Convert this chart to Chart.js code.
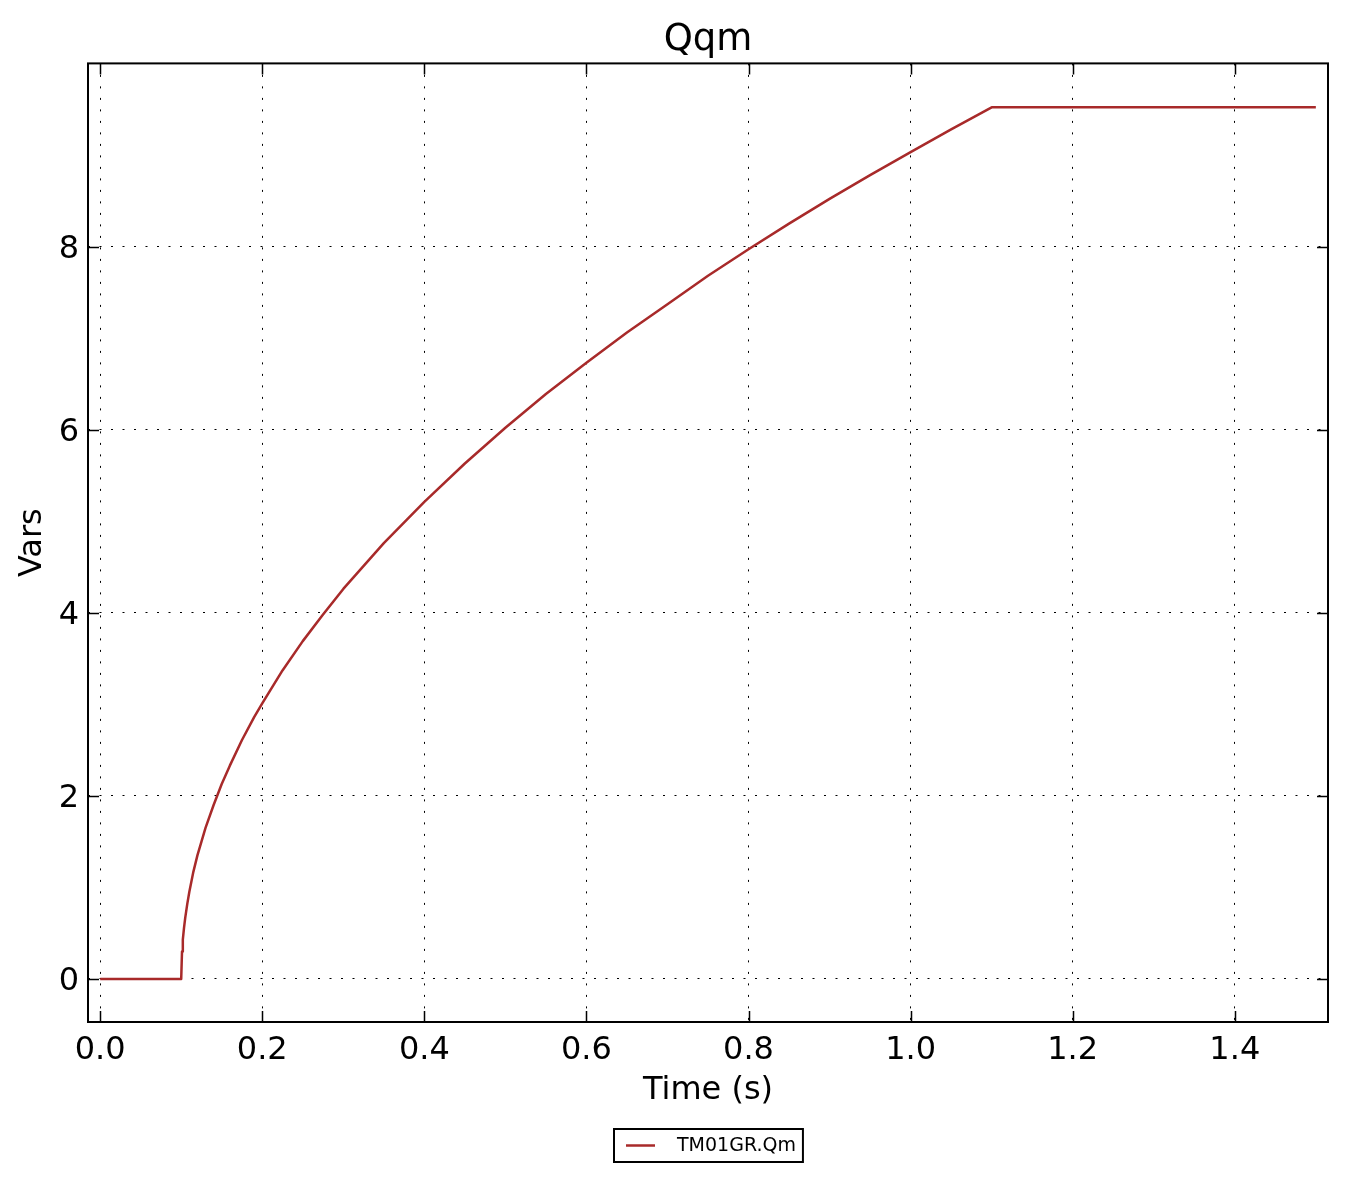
<!DOCTYPE html>
<html>
<head>
<meta charset="utf-8">
<title>Qqm</title>
<script src="https://cdn.jsdelivr.net/npm/chart.js@4.4.1/dist/chart.umd.min.js"></script>
<style>
  html, body { margin: 0; padding: 0; background: #fff; }
  #wrap { width: 1347px; height: 1182px; }
</style>
</head>
<body>
<div id="wrap"><canvas id="qqmChart"></canvas></div>
<script>
'use strict'

// values
const timeS = [0, 0.1, 0.101, 0.102, 0.1035, 0.105, 0.1075, 0.11, 0.115, 0.12, 0.125, 0.13, 0.14, 0.15, 0.16, 0.175, 0.19, 0.2, 0.225, 0.25, 0.275, 0.3, 0.35, 0.4, 0.45, 0.5, 0.55, 0.6, 0.65, 0.7, 0.75, 0.8, 0.85, 0.9, 0.95, 1.0, 1.05, 1.1, 1.5]
const qm = [0, 0, 0.3, 0.43, 0.56, 0.67, 0.82, 0.95, 1.17, 1.35, 1.5, 1.65, 1.9, 2.13, 2.33, 2.61, 2.86, 3.01, 3.37, 3.69, 3.98, 4.26, 4.76, 5.21, 5.63, 6.02, 6.39, 6.73, 7.06, 7.37, 7.68, 7.97, 8.25, 8.52, 8.78, 9.03, 9.28, 9.52, 9.52]
const xTicks = [0, 0.2, 0.4, 0.6, 0.8, 1.0, 1.2, 1.4]
const yTicks = [0, 2, 4, 6, 8]
const seriesName = 'TM01GR.Qm'

const FONT = 'DejaVu Sans'
const lineColor = '#a82a2a'

function tickFont(size) {
  return { family: FONT, size: size, weight: 'normal' }
}

// frame, inward ticks and the boxed legend under the axis title
const frameAndLegend = {
  id: 'frameAndLegend',
  afterLayout(chart) {
    // centre the title over the plot area, not the whole canvas
    if (chart.titleBlock) {
      chart.titleBlock.left = chart.chartArea.left
      chart.titleBlock.right = chart.chartArea.right
    }
  },
  afterDraw(chart) {
    const { ctx, chartArea } = chart
    const { left, right, top, bottom } = chartArea
    const xs = chart.scales.x
    const ys = chart.scales.y
    const tl = 11

    ctx.save()
    ctx.strokeStyle = '#000'
    ctx.lineWidth = 1.5
    ctx.beginPath()
    xTicks.forEach(v => {
      const px = Math.round(xs.getPixelForValue(v)) + 0.5
      ctx.moveTo(px, bottom); ctx.lineTo(px, bottom - tl)
      ctx.moveTo(px, top); ctx.lineTo(px, top + tl)
    })
    yTicks.forEach(v => {
      const py = Math.round(ys.getPixelForValue(v)) + 0.5
      ctx.moveTo(left, py); ctx.lineTo(left + tl, py)
      ctx.moveTo(right, py); ctx.lineTo(right - tl, py)
    })
    ctx.stroke()

    ctx.lineWidth = 2
    ctx.strokeRect(left, top, right - left, bottom - top)

    // legend
    ctx.font = '19px "' + FONT + '"'
    const textW = ctx.measureText(seriesName).width
    const boxW = 12 + 29 + 22 + textW + 7
    const boxH = 33
    const bx = Math.round((left + right) / 2 - boxW / 2)
    const by = Math.round(bottom + 107)
    ctx.fillStyle = '#fff'
    ctx.fillRect(bx, by, boxW, boxH)
    ctx.strokeRect(bx, by, boxW, boxH)
    const cy = by + boxH / 2
    ctx.strokeStyle = lineColor
    ctx.lineWidth = 2.5
    ctx.beginPath()
    ctx.moveTo(bx + 12, cy); ctx.lineTo(bx + 41, cy)
    ctx.stroke()
    ctx.fillStyle = '#000'
    ctx.textBaseline = 'middle'
    ctx.textAlign = 'left'
    ctx.fillText(seriesName, bx + 63, cy + 1)
    ctx.restore()
  }
}

const ctx = document.getElementById('qqmChart').getContext('2d')
const qqmChart = new Chart(ctx, {
  type: 'line',
  data: {
    datasets: [{
      label: seriesName,
      data: timeS.map((t, i) => ({ x: t, y: qm[i] })),
      borderColor: lineColor,
      backgroundColor: lineColor,
      borderWidth: 2.5,
      borderJoinStyle: 'round',
      pointRadius: 0,
      tension: 0,
      fill: false
    }]
  },
  options: {
    responsive: true,
    maintainAspectRatio: false,
    animation: false,
    layout: { padding: { left: 0, right: 19, top: 0, bottom: 55 } },
    plugins: {
      legend: { display: false },
      tooltip: { enabled: false },
      title: {
        display: true,
        text: 'Qqm',
        color: '#000',
        font: tickFont(37),
        padding: { top: 18, bottom: 1 }
      }
    },
    scales: {
      x: {
        type: 'linear',
        min: -0.015,
        max: 1.515,
        afterBuildTicks: s => { s.ticks = xTicks.map(v => ({ value: v })) },
        afterFit: s => { s.height = 105 },
        ticks: {
          callback: v => v.toFixed(1),
          color: '#000',
          font: tickFont(32),
          padding: 9,
          maxRotation: 0
        },
        grid: { color: '#000', lineWidth: 1, drawTicks: false },
        border: { display: false, dash: [2, 9.5] },
        title: {
          display: true,
          text: 'Time (s)',
          color: '#000',
          font: tickFont(32),
          padding: { top: 0, bottom: 17 }
        }
      },
      y: {
        min: -0.47,
        max: 10,
        afterBuildTicks: s => { s.ticks = yTicks.map(v => ({ value: v })) },
        afterFit: s => { s.width = 88 },
        ticks: {
          callback: v => String(v),
          color: '#000',
          font: tickFont(32),
          padding: 9,
          labelOffset: 3
        },
        grid: { color: '#000', lineWidth: 1, drawTicks: false },
        border: { display: false, dash: [2, 9.5] },
        title: {
          display: true,
          text: 'Vars',
          color: '#000',
          font: tickFont(32),
          padding: { top: 13, bottom: 0 }
        }
      }
    }
  },
  plugins: [frameAndLegend]
})
</script>
</body>
</html>
